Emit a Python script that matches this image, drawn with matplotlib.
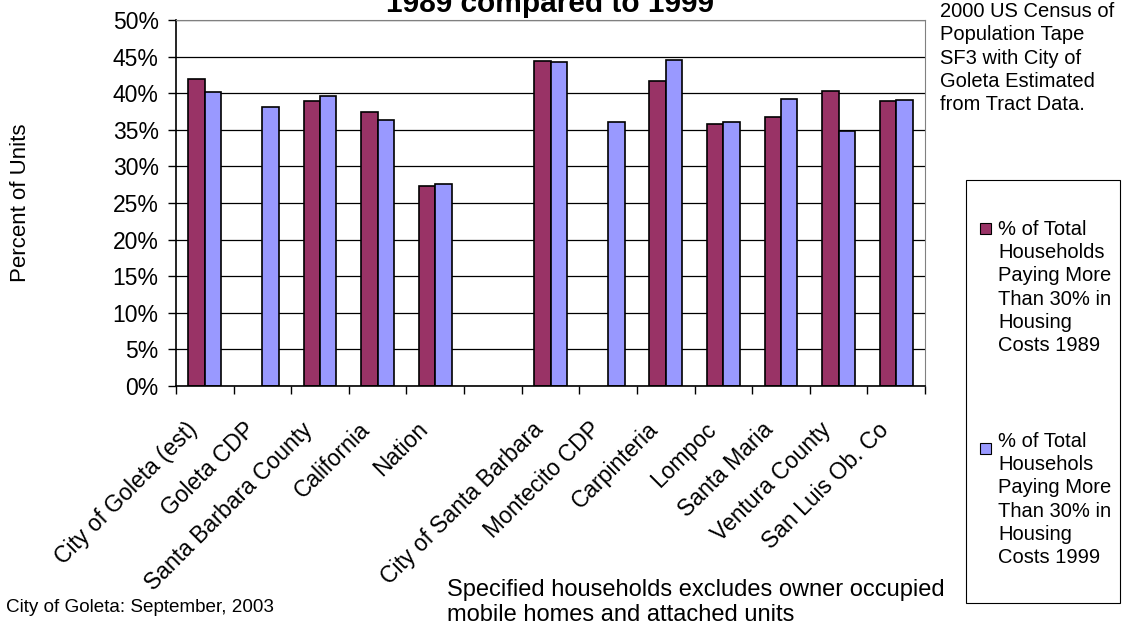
import numpy as np
import matplotlib
matplotlib.use("Agg")
import matplotlib.pyplot as plt
from matplotlib.patches import Rectangle
from matplotlib.ticker import PercentFormatter
from matplotlib.transforms import ScaledTranslation

plt.rcParams['font.family'] = ['Liberation Sans', 'DejaVu Sans']

# Housing cost burden by place (percent of specified households)
places = ["City of Goleta (est)", "Goleta CDP", "Santa Barbara County", "California",
          "Nation", "", "City of Santa Barbara", "Montecito CDP", "Carpinteria",
          "Lompoc", "Santa Maria", "Ventura County", "San Luis Ob. Co"]
pct_1989 = [42.0, np.nan, 39.0, 37.4, 27.3, np.nan, 44.4, np.nan, 41.6, 35.8, 36.8, 40.3, 38.9]
pct_1999 = [40.1, 38.1, 39.6, 36.4, 27.6, np.nan, 44.3, 36.1, 44.6, 36.1, 39.2, 34.8, 39.1]

label_1989 = "% of Total\nHouseholds\nPaying More\nThan 30% in\nHousing\nCosts 1989"
label_1999 = "% of Total\nHousehols\nPaying More\nThan 30% in\nHousing\nCosts 1999"
source_note = "2000 US Census of\nPopulation Tape\nSF3 with City of\nGoleta Estimated\nfrom Tract Data."

W, H = 1122, 627
fig = plt.figure(figsize=(W / 100, H / 100), dpi=100)
ax = fig.add_axes([176 / W, 1 - 386 / H, (925 - 176) / W, (386 - 20) / H])


def fy(px):
    # pixel row from the top -> figure fraction
    return 1 - px / H


x = np.arange(len(places))
w = 0.285
c89, c99 = "#993366", "#9999ff"
ax.bar(x - w / 2, pct_1989, w, color=c89, edgecolor="black", linewidth=1.2)
ax.bar(x + w / 2, pct_1999, w, color=c99, edgecolor="black", linewidth=1.2)

ax.set_xlim(-0.5, len(places) - 0.5)
ax.set_ylim(0, 50)
ax.set_yticks(np.arange(0, 51, 5))
ax.yaxis.set_major_formatter(PercentFormatter(decimals=0))
ax.grid(axis="y", color="black", linewidth=0.9)
ax.set_axisbelow(True)

# category boundaries carry the x ticks; names are placed as rotated texts
ax.set_xticks(np.arange(-0.5, len(places)))
ax.set_xticklabels([])
ax.tick_params(axis="x", length=6, width=1)
ax.tick_params(axis="y", length=6, width=1, labelsize=16.5, pad=6.5)

name_trans = ax.get_xaxis_transform() + ScaledTranslation(-19 / 100, -32 / 100,
                                                          fig.dpi_scale_trans)
for xi, name in zip(x, places):
    ax.text(xi, 0, name, transform=name_trans, rotation=45, ha="right", va="top",
            rotation_mode="anchor", fontsize=16.5)

for side in ("top", "right"):
    ax.spines[side].set_color("#808080")
for side in ("left", "bottom"):
    ax.spines[side].set_color("black")
    ax.spines[side].set_linewidth(1.2)

fig.text(21 / W, fy(203), "Percent of Units", fontsize=16, rotation=90,
         va="center", ha="center")

fig.text(550 / W, fy(12), "1989 compared to 1999", fontsize=21.5,
         fontweight="bold", va="baseline", ha="center")

fig.text(940 / W, fy(58), source_note, fontsize=14.5, va="center", ha="left",
         linespacing=1.28)

# legend box on the right
fig.patches.append(Rectangle((966 / W, fy(603)), (1120 - 966) / W, (603 - 180) / H,
                             transform=fig.transFigure, facecolor="white",
                             edgecolor="black", linewidth=0.8))
for ytop, ymid, col, lab in ((223, 287.5, c89, label_1989), (443, 499.5, c99, label_1999)):
    fig.patches.append(Rectangle((980 / W, fy(ytop + 11)), 11 / W, 11 / H,
                                 transform=fig.transFigure, facecolor=col,
                                 edgecolor="black", linewidth=0.8))
    fig.text(998 / W, fy(ymid), lab, fontsize=14.5, va="center", ha="left",
             linespacing=1.28)

fig.text(6 / W, fy(608), "City of Goleta: September, 2003", fontsize=13.6,
         va="center", ha="left")
fig.text(447 / W, fy(602.5),
         "Specified households excludes owner occupied\nmobile homes and attached units",
         fontsize=17, va="center", ha="left", linespacing=1.22)

fig.savefig("out.png", dpi=100)
